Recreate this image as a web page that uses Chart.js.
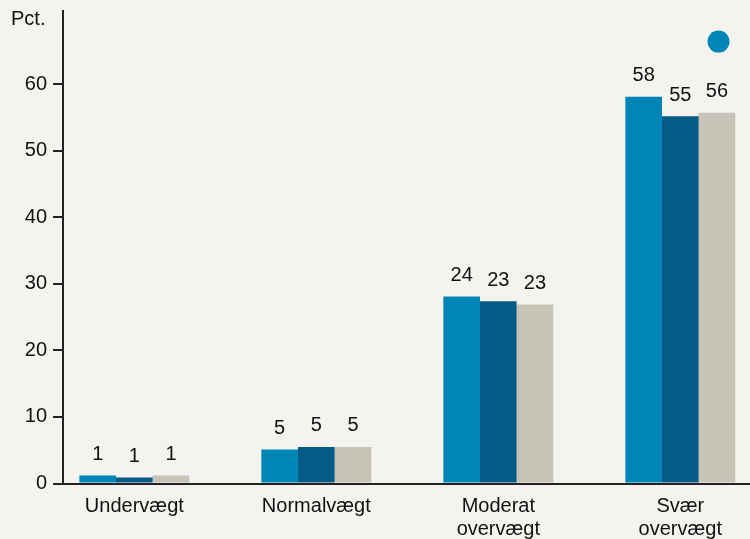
<!DOCTYPE html>
<html>
<head>
<meta charset="utf-8">
<script src="https://cdn.jsdelivr.net/npm/chart.js@4"></script>
<style>
  body { margin: 0; background: #f4f3ef; }
  canvas { display: block; }
</style>
</head>
<body>
<canvas id="myChart" width="750" height="539"></canvas>
<script>
// categories (multi-line labels)
var categories = [['Undervægt'], ['Normalvægt'], ['Moderat', 'overvægt'], ['Svær', 'overvægt']];

// bar heights
var series1 = [1.2, 5.1, 28.1, 58.1];
var series2 = [0.9, 5.5, 27.4, 55.2];
var series3 = [1.2, 5.5, 26.9, 55.7];

// printed value labels above the bars
var labels1 = ['1', '5', '24', '58'];
var labels2 = ['1', '5', '23', '55'];
var labels3 = ['1', '5', '23', '56'];

var yTicks = [0, 10, 20, 30, 40, 50, 60];
var marker = { x: 3.21, y: 66.4 };

var font = 'Liberation Sans, Arial, Helvetica, sans-serif';
var textColor = '#111111';
var axisColor = '#222222';

function toPoints(arr) {
    return arr.map(function (v, i) { return { x: i, y: v }; });
}

var data = {
    datasets: [
        { backgroundColor: '#0085b6', data: toPoints(series1), valueLabels: labels1 },
        { backgroundColor: '#035b86', data: toPoints(series2), valueLabels: labels2 },
        { backgroundColor: '#c7c3b7', data: toPoints(series3), valueLabels: labels3 }
    ]
};

// value labels, blue marker dot and "Pct." unit text
var labelPlugin = {
    id: 'labels',
    afterDatasetsDraw: function (chart) {
        var ctx = chart.ctx;
        ctx.save();
        ctx.fillStyle = textColor;
        ctx.font = '20px ' + font;
        ctx.textAlign = 'center';
        ctx.textBaseline = 'middle';
        chart.data.datasets.forEach(function (ds, di) {
            chart.getDatasetMeta(di).data.forEach(function (bar, i) {
                ctx.fillText(ds.valueLabels[i], bar.x, bar.y - 21);
            });
        });
        ctx.textAlign = 'left';
        ctx.fillText('Pct.', 11, 19);

        ctx.fillStyle = '#0085b6';
        ctx.beginPath();
        ctx.arc(chart.scales.x.getPixelForValue(marker.x), chart.scales.y.getPixelForValue(marker.y), 11, 0, Math.PI * 2);
        ctx.fill();
        ctx.restore();
    }
};

var options = {
    responsive: false,
    animation: false,
    layout: { padding: { top: 11, right: 0, left: 0, bottom: 0 } },
    plugins: { legend: { display: false }, tooltip: { enabled: false } },
    datasets: { bar: { categoryPercentage: 0.604, barPercentage: 1.0 } },
    scales: {
        x: {
            type: 'linear',
            offset: false,
            min: -0.392,
            max: 3.383,
            afterBuildTicks: function (scale) {
                scale.ticks = categories.map(function (c, i) { return { value: i }; });
            },
            afterFit: function (scale) {
                scale.height = 55.5;
                scale.paddingLeft = 0;
                scale.paddingRight = 0;
            },
            grid: { display: false, drawTicks: false },
            border: { display: true, color: axisColor, width: 2 },
            ticks: {
                padding: 12,
                color: textColor,
                font: { family: font, size: 20, lineHeight: 1.12 },
                maxRotation: 0,
                autoSkip: false,
                callback: function (v) { return categories[v]; }
            }
        },
        y: {
            min: 0,
            max: 71,
            afterBuildTicks: function (scale) {
                scale.ticks = yTicks.map(function (v) { return { value: v }; });
            },
            afterFit: function (scale) {
                scale.width = 63;
                scale.paddingTop = 0;
                scale.paddingBottom = 0;
            },
            grid: { display: true, drawOnChartArea: false, drawTicks: true, tickLength: 10, color: axisColor, lineWidth: 2 },
            border: { display: true, color: axisColor, width: 2 },
            ticks: {
                padding: 6,
                color: textColor,
                font: { family: font, size: 20 }
            }
        }
    }
};

var ctx = document.getElementById('myChart').getContext('2d');
var myChart = new Chart(ctx, {
    type: 'bar',
    data: data,
    options: options,
    plugins: [labelPlugin]
});
</script>
</body>
</html>
